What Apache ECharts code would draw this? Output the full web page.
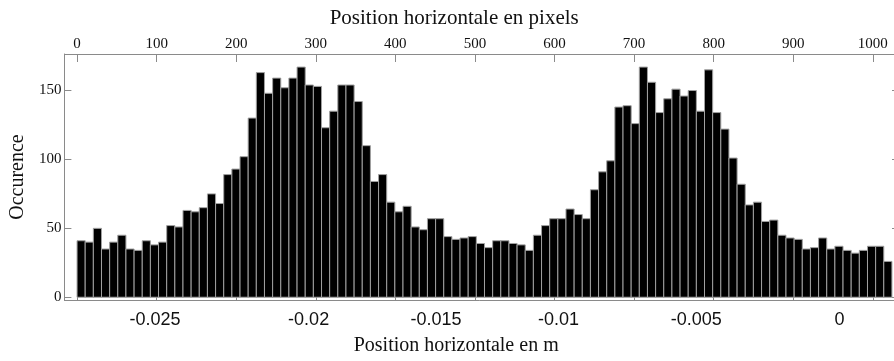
<!DOCTYPE html>
<html>
<head>
<meta charset="utf-8">
<script src="https://cdn.jsdelivr.net/npm/echarts@6/dist/echarts.min.js"></script>
<style>
  html, body { margin: 0; padding: 0; background: #fff; }
  #chart { width: 894px; height: 361px; }
</style>
</head>
<body>
<div id="chart"></div>
<script>
// Histogram of horizontal positions: 100 bins over the 1024-pixel sensor width
const pixelSpan = [0, 1024];
const counts = [
  41, 40, 50, 35, 40, 45, 35, 34, 41, 38,
  40, 52, 51, 63, 62, 65, 75, 68, 89, 93,
  102, 130, 163, 148, 159, 152, 159, 167, 154, 153,
  123, 135, 154, 154, 142, 110, 84, 89, 69, 62,
  66, 51, 49, 57, 57, 44, 42, 43, 44, 39,
  36, 41, 41, 39, 38, 34, 45, 52, 57, 57,
  64, 60, 57, 78, 91, 99, 138, 139, 126, 167,
  156, 134, 144, 151, 146, 150, 135, 165, 134, 122,
  101, 82, 67, 69, 55, 56, 45, 43, 42, 35,
  36, 43, 35, 37, 34, 32, 34, 37, 37, 26
];

// Top scale: pixel columns
const pixelTicks = [0, 100, 200, 300, 400, 500, 600, 700, 800, 900, 1000];
// Bottom scale: metre labels and the pixel column each one is printed at
const metreLabels = ['-0.025', '-0.02', '-0.015', '-0.01', '-0.005', '0'];
const metreLabelAt = [98, 291, 451, 605, 778, 958];
// Vertical scale
const countTicks = [0, 50, 100, 150];

const binWidth = (pixelSpan[1] - pixelSpan[0]) / counts.length;
const bins = counts.map((c, i) => [
  pixelSpan[0] + i * binWidth,
  pixelSpan[0] + (i + 1) * binWidth,
  c
]);

const axisGrey = '#8a8a8a';
const serif = '"Liberation Serif", "DejaVu Serif", serif';
const sans = '"Liberation Sans", Arial, sans-serif';

const frameLine = { show: true, onZero: false, lineStyle: { color: axisGrey, width: 1 } };
const xRange = { min: -15.9, max: 1026.6 };
const yRange = { min: -2, max: 176.5 };

const chart = echarts.init(document.getElementById('chart'), null, { renderer: 'canvas' });

chart.setOption({
  animation: false,
  backgroundColor: '#ffffff',
  grid: { left: 62, top: 54, right: 0, bottom: 61, containLabel: false },
  xAxis: [
    {
      type: 'value',
      position: 'top',
      ...xRange,
      name: 'Position horizontale en pixels',
      nameLocation: 'middle',
      nameGap: 25,
      nameTextStyle: { fontFamily: serif, fontSize: 21, color: '#111', padding: [0, 50, 0, 0] },
      axisLine: frameLine,
      axisTick: { show: true, inside: true, length: 8, customValues: pixelTicks, lineStyle: { color: axisGrey } },
      axisLabel: {
        customValues: pixelTicks,
        margin: 2,
        fontFamily: serif,
        fontSize: 15,
        color: '#111',
        formatter: (v) => String(v)
      },
      splitLine: { show: false }
    },
    {
      type: 'value',
      position: 'bottom',
      ...xRange,
      name: 'Position horizontale en m',
      nameLocation: 'middle',
      nameGap: 36,
      nameTextStyle: { fontFamily: serif, fontSize: 20, color: '#111', padding: [0, 46, 0, 0] },
      axisLine: frameLine,
      axisTick: { show: true, inside: true, length: 8, customValues: pixelTicks, lineStyle: { color: axisGrey } },
      axisLabel: {
        customValues: metreLabelAt,
        margin: 11,
        fontFamily: sans,
        fontSize: 18,
        color: '#111',
        formatter: (v) => metreLabels[metreLabelAt.indexOf(v)]
      },
      splitLine: { show: false }
    }
  ],
  yAxis: [
    {
      type: 'value',
      position: 'left',
      ...yRange,
      name: 'Occurence',
      nameLocation: 'middle',
      nameGap: 34,
      nameRotate: 90,
      nameTextStyle: { fontFamily: serif, fontSize: 20, color: '#111' },
      axisLine: frameLine,
      axisTick: { show: true, inside: true, length: 7, customValues: countTicks, lineStyle: { color: axisGrey } },
      axisLabel: { customValues: countTicks, margin: 3, fontFamily: serif, fontSize: 15, color: '#111' },
      splitLine: { show: false }
    },
    {
      // right-hand frame sits just past the canvas edge; only the tips of its ticks show
      type: 'value',
      position: 'right',
      ...yRange,
      axisLine: { show: false, onZero: false },
      axisTick: { show: true, inside: true, length: 2, customValues: countTicks, lineStyle: { color: axisGrey } },
      axisLabel: { show: false },
      splitLine: { show: false }
    }
  ],
  series: [
    {
      type: 'custom',
      name: 'Occurence',
      xAxisIndex: 0,
      yAxisIndex: 0,
      encode: { x: [0, 1], y: 2 },
      data: bins,
      renderItem: function (params, api) {
        const left = api.coord([api.value(0), api.value(2)]);
        const right = api.coord([api.value(1), 0]);
        return {
          type: 'rect',
          shape: { x: left[0], y: left[1], width: right[0] - left[0], height: right[1] - left[1] },
          style: { fill: '#000000', stroke: '#a0a0a0', lineWidth: 1 }
        };
      }
    }
  ]
});
</script>
</body>
</html>
